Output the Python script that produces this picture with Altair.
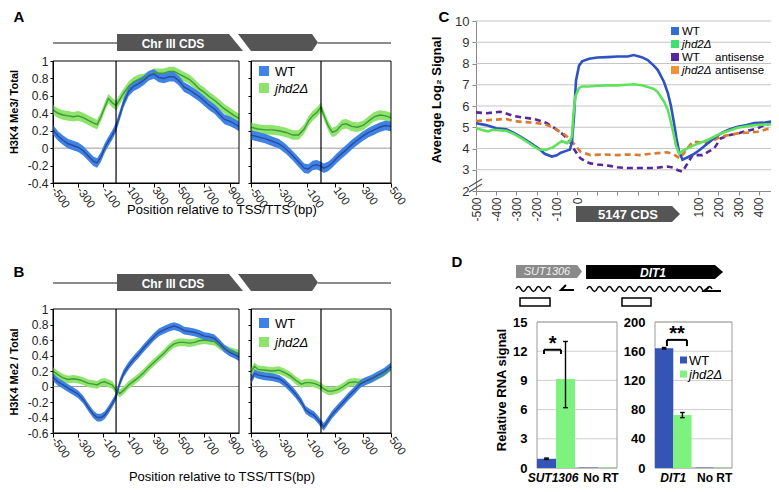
import altair as alt
import pandas as pd

FONT = "Liberation Sans"
W, H = 763, 476
ONE = alt.Data(values=[{"k": 1}])
FIX = "replace(datum.label, '\u2212', '-')"

BLUE_BAND, BLUE_LINE = "#3d82e4", "#2c4a9e"
GREEN_BAND, GREEN_LINE = "#8ee46c", "#3e9a3a"
C_WT, C_MU, C_WTA, C_MUA = "#2f52c2", "#5ee25e", "#56289c", "#da7a30"
D_WT, D_MU = "#3455b6", "#7ef27e"

# ---------------- Panel A : H3K4 Me3 / Total ----------------
A_tss_x = [-500, -460, -420, -380, -340, -300, -260, -220, -180, -150,
           -120, -90, -60, -30, 0, 30, 60, 100, 140, 180,
           220, 260, 300, 340, 380, 420, 460, 500, 540, 580,
           620, 660, 700, 740, 780, 820, 860, 900, 940, 975]
A_tss_wt = [0.21, 0.14, 0.09, 0.05, 0.03, 0.01, -0.03, -0.09, -0.15, -0.17,
            -0.10, 0.0, 0.08, 0.15, 0.24, 0.38, 0.52, 0.65, 0.71, 0.74,
            0.78, 0.83, 0.85, 0.81, 0.80, 0.82, 0.82, 0.77, 0.70, 0.67,
            0.63, 0.59, 0.54, 0.49, 0.45, 0.39, 0.33, 0.31, 0.28, 0.25]
A_tss_mu = [0.44, 0.40, 0.38, 0.37, 0.36, 0.37, 0.35, 0.32, 0.29, 0.27,
            0.36, 0.47, 0.57, 0.52, 0.49, 0.56, 0.63, 0.71, 0.76, 0.79,
            0.80, 0.83, 0.86, 0.86, 0.86, 0.88, 0.88, 0.85, 0.82, 0.79,
            0.74, 0.68, 0.64, 0.59, 0.55, 0.50, 0.45, 0.41, 0.37, 0.34]
A_tts_x = [-500, -450, -400, -350, -300, -250, -200, -160, -120, -90,
           -60, -30, 0, 20, 50, 80, 110, 150, 180, 220,
           260, 300, 340, 380, 420, 460, 500]
A_tts_wt = [0.15, 0.13, 0.11, 0.08, 0.05, -0.01, -0.09, -0.16, -0.23, -0.24,
            -0.20, -0.19, -0.21, -0.23, -0.21, -0.17, -0.12, -0.06, -0.02, 0.04,
            0.09, 0.14, 0.18, 0.21, 0.24, 0.26, 0.25]
A_tts_mu = [0.24, 0.22, 0.21, 0.21, 0.20, 0.18, 0.15, 0.15, 0.22, 0.31,
            0.37, 0.41, 0.47, 0.38, 0.26, 0.18, 0.20, 0.27, 0.28, 0.25,
            0.24, 0.26, 0.31, 0.36, 0.38, 0.37, 0.35]

# ---------------- Panel B : H3K4 Me2 / Total ----------------
B_tss_x = A_tss_x
B_tss_wt = [0.12, 0.06, 0.02, -0.02, -0.06, -0.10, -0.17, -0.27, -0.36, -0.40,
            -0.40, -0.37, -0.30, -0.22, -0.13, 0.05, 0.17, 0.27, 0.35, 0.42,
            0.50, 0.57, 0.64, 0.70, 0.73, 0.76, 0.78, 0.76, 0.72, 0.71,
            0.70, 0.68, 0.65, 0.64, 0.62, 0.56, 0.49, 0.44, 0.41, 0.38]
B_tss_mu = [0.20, 0.15, 0.11, 0.09, 0.10, 0.09, 0.07, 0.04, 0.03, 0.02,
            0.05, 0.06, 0.04, 0.02, -0.05, -0.09, -0.05, 0.02, 0.07, 0.12,
            0.18, 0.25, 0.31, 0.37, 0.43, 0.50, 0.55, 0.57, 0.57, 0.56,
            0.57, 0.59, 0.60, 0.59, 0.58, 0.53, 0.49, 0.46, 0.44, 0.42]
B_tts_x = [-500, -475, -450, -400, -350, -300, -260, -220, -180, -140,
           -110, -80, -50, -20, 0, 20, 50, 80, 120, 160,
           200, 240, 280, 320, 360, 400, 450, 500]
B_tts_wt = [0.08, 0.17, 0.15, 0.13, 0.12, 0.10, 0.05, -0.02, -0.10, -0.20,
            -0.30, -0.34, -0.37, -0.43, -0.48, -0.52, -0.44, -0.36, -0.28, -0.20,
            -0.12, -0.05, 0.03, 0.07, 0.10, 0.14, 0.19, 0.26]
B_tts_mu = [0.19, 0.26, 0.22, 0.21, 0.20, 0.21, 0.18, 0.14, 0.08, 0.03,
            0.05, 0.05, 0.04, 0.02, 0.0, -0.03, -0.06, -0.06, -0.04, 0.0,
            0.05, 0.06, 0.05, 0.07, 0.10, 0.13, 0.18, 0.25]

# ---------------- Panel C : Average Log2 signal ----------------
C_wt_x = [-500, -450, -400, -350, -315, -270, -230, -190, -160, -125,
          -100, -80, -50, -35, -25, -15, -5, 10, 25, 60,
          100, 150, 200, 250, 281, 320, 350, 380, 400, 430,
          450, 465, 480, 492, 505, 522, 550, 580, 610, 646,
          680, 712, 750, 795, 840, 878, 930, 970]
C_wt_y = [5.19, 5.10, 4.95, 4.90, 4.75, 4.50, 4.25, 4.00, 3.75, 3.62,
          3.68, 3.80, 3.90, 3.95, 4.30, 5.50, 7.20, 7.90, 8.10, 8.22,
          8.28, 8.30, 8.33, 8.33, 8.40, 8.30, 8.16, 7.90, 7.69, 7.14,
          6.60, 6.00, 5.20, 4.50, 3.85, 3.47, 3.60, 3.75, 3.95, 4.24,
          4.50, 4.71, 4.88, 5.02, 5.10, 5.20, 5.22, 5.28]
C_mu_x = [-500, -460, -440, -420, -400, -350, -315, -270, -230, -190,
          -155, -120, -100, -75, -50, -35, -25, -18, -8, 10,
          25, 60, 100, 150, 200, 250, 281, 320, 350, 380,
          398, 431, 450, 464, 480, 489, 505, 530, 580, 646,
          712, 795, 878, 970]
C_mu_y = [4.95, 4.85, 4.80, 4.88, 4.87, 4.83, 4.70, 4.45, 4.20, 3.95,
          3.93, 4.05, 4.18, 4.35, 4.25, 4.35, 4.60, 5.60, 6.45, 6.85,
          6.92, 6.92, 6.95, 6.97, 6.97, 7.00, 7.02, 6.98, 6.90, 6.80,
          6.67, 6.20, 5.80, 5.26, 4.60, 4.16, 3.75, 3.93, 4.16, 4.40,
          4.71, 4.98, 5.10, 5.15]
C_wta_x = [-500, -447, -410, -381, -350, -315, -260, -215, -180, -149,
           -120, -99, -75, -49, -30, -17, 0, 17, 40, 66,
           100, 132, 170, 199, 249, 315, 381, 447, 475, 497,
           522, 547, 572, 621, 650, 679, 712, 750, 795, 850,
           894, 927, 970]
C_wta_y = [5.70, 5.66, 5.70, 5.73, 5.65, 5.53, 5.45, 5.39, 5.30, 5.19,
           5.02, 4.87, 4.70, 4.48, 4.25, 4.01, 3.75, 3.54, 3.40, 3.30,
           3.25, 3.22, 3.17, 3.12, 3.08, 3.08, 3.08, 3.15, 3.10, 2.99,
           2.91, 3.30, 3.69, 3.69, 3.85, 4.01, 4.48, 4.62, 4.71, 4.85,
           4.95, 5.10, 5.20]
C_mua_x = [-500, -447, -381, -350, -315, -270, -215, -160, -120, -99,
           -70, -49, -17, 17, 66, 132, 199, 249, 315, 381,
           447, 480, 497, 510, 547, 572, 600, 621, 650, 679,
           712, 795, 894, 970]
C_mua_y = [5.29, 5.33, 5.37, 5.39, 5.30, 5.25, 5.22, 5.14, 5.00, 4.87,
           4.72, 4.56, 4.24, 3.85, 3.69, 3.72, 3.69, 3.72, 3.69, 3.77,
           3.82, 3.72, 3.61, 3.54, 4.01, 4.32, 4.30, 4.24, 4.30, 4.40,
           4.56, 4.71, 4.79, 4.98]
C_ticks = list(range(-500, 1000, 100))
C_legend = ["WT", "jhd2Δ", "WT", "jhd2Δ"]

# ---------------- Panel D : qRT-PCR ----------------
D1_groups = ["SUT1306", "No RT"]
D1_wt = [0.95, 0.04]
D1_mu = [9.15, 0.04]
D1_err_lo = [0.88, 6.2]     # WT, jhd2Δ (gene group)
D1_err_hi = [1.02, 13.0]
D2_groups = ["DIT1", "No RT"]
D2_wt = [164.0, 0.5]
D2_mu = [72.5, 0.5]
D2_err_lo = [163.0, 69.0]
D2_err_hi = [165.0, 76.0]


def lin(domain, rng):
    return alt.Scale(domain=domain, range=rng, zero=False, nice=False)


def txt(t, x, y, size=12, weight="normal", style="normal", color="black",
        angle=0, align="center", baseline="middle"):
    return alt.Chart(ONE).mark_text(
        text=t, font=FONT, fontSize=size, fontWeight=weight, fontStyle=style,
        color=color, angle=angle, align=align, baseline=baseline
    ).encode(x=alt.value(x), y=alt.value(y))


def path(d, fill=None, stroke=None, width=1.5):
    if fill is not None:
        m = alt.Chart(ONE).mark_point(shape=d, size=4, filled=True, color=fill,
                                      opacity=1, strokeWidth=0)
    else:
        m = alt.Chart(ONE).mark_point(shape=d, size=4, filled=False, color=stroke,
                                      opacity=1, strokeWidth=width)
    return m.encode(x=alt.value(0), y=alt.value(0))


def square(x, y, color, size):
    return alt.Chart(ONE).mark_square(size=size, color=color, opacity=1).encode(
        x=alt.value(x), y=alt.value(y))


def profile(xd, xr, yd, yr, xticks, yticks, ylabels, gx, wt, mu, half):
    xs, ys = lin(xd, xr), lin(yd, yr)
    xax = alt.Axis(orient="bottom", offset=yr[0] - H, values=xticks, labelAngle=55,
                   labelFont=FONT, labelFontSize=11.5, labelColor="#222", labelPadding=1,
                   labelFlush=False, labelOverlap=False, labelExpr=FIX, tickSize=4,
                   tickColor="black", domainColor="black", grid=False, title=None)
    yax = alt.Axis(orient="left", offset=-xr[0], values=yticks, labels=ylabels,
                   format="~g", labelExpr=FIX, labelFont=FONT, labelFontSize=12,
                   labelColor="#222", labelPadding=2, labelFlush=False,
                   labelOverlap=False, tickSize=3, tickColor="black",
                   domainColor="black", grid=False, title=None)
    df = pd.DataFrame({"x": gx, "wt": wt, "mu": mu})
    df["wt_lo"] = df["wt"] - half
    df["wt_hi"] = df["wt"] + half
    df["mu_lo"] = df["mu"] - half
    df["mu_hi"] = df["mu"] + half
    X = alt.X("x:Q", scale=xs, axis=xax)

    def Y(f):
        return alt.Y(f, type="quantitative", scale=ys, axis=yax)

    base = alt.Chart(df)
    zero = alt.Chart(pd.DataFrame({"x": [xd[0]], "x2": [xd[1]], "y": [0.0]})).mark_rule(
        color="#9b9b9b", strokeWidth=1).encode(X, alt.X2("x2:Q"), Y("y"))
    vline = alt.Chart(pd.DataFrame({"x": [0], "y": [yd[0]], "y2": [yd[1]]})).mark_rule(
        color="black", strokeWidth=1.2).encode(X, Y("y"), alt.Y2("y2:Q"))
    frame = alt.Chart(pd.DataFrame({"x": [xd[0]], "x2": [xd[1]], "y": [yd[0]], "y2": [yd[1]]})).mark_rect(
        fillOpacity=0, stroke="black", strokeWidth=1).encode(X, alt.X2("x2:Q"), Y("y"), alt.Y2("y2:Q"))
    layers = [
        zero,
        base.mark_area(color=GREEN_BAND, opacity=1).encode(X, Y("mu_lo"), alt.Y2("mu_hi:Q")),
        base.mark_area(color=BLUE_BAND, opacity=1).encode(X, Y("wt_lo"), alt.Y2("wt_hi:Q")),
        base.mark_line(color=GREEN_LINE, strokeWidth=1.4).encode(X, Y("mu")),
        base.mark_line(color=BLUE_LINE, strokeWidth=1.4).encode(X, Y("wt")),
        vline, frame,
    ]
    return alt.layer(*layers)


A_yt = [-0.4, -0.2, 0, 0.2, 0.4, 0.6, 0.8, 1]
B_yt = [-0.6, -0.4, -0.2, 0, 0.2, 0.4, 0.6, 0.8, 1]
L_xt = [-500, -300, -100, 100, 300, 500, 700, 900]
R_xt = [-500, -300, -100, 100, 300, 500]

pA1 = profile([-500, 975], [45, 231], [-0.4, 1], [175, 53], L_xt, A_yt, True,
              A_tss_x, A_tss_wt, A_tss_mu, 0.055)
pA2 = profile([-500, 500], [243, 383], [-0.4, 1], [175, 53], R_xt, A_yt, False,
              A_tts_x, A_tts_wt, A_tts_mu, 0.055)
pB1 = profile([-500, 975], [45, 231], [-0.6, 1], [425, 301], L_xt, B_yt, True,
              B_tss_x, B_tss_wt, B_tss_mu, 0.05)
pB2 = profile([-500, 500], [243, 383], [-0.6, 1], [425, 301], R_xt, B_yt, False,
              B_tts_x, B_tts_wt, B_tts_mu, 0.05)

# ---------------- Panel C chart ----------------
cxs, cys = lin([-500, 970], [468, 765]), lin([2, 10], [183, 13])
cxax = alt.Axis(orient="bottom", offset=183 - H, values=C_ticks, labelAngle=270,
                labelExpr="datum.value <= 0 ? replace(datum.label, '\u2212', '-') : (datum.value > 500 ? format(datum.value - 500, 'd') : '')",
                labelFont=FONT, labelFontSize=12, labelColor="#333", labelPadding=2,
                labelFlush=False, labelOverlap=False, tickSize=4, tickColor="#888",
                domainColor="#888", grid=False, title=None)
cyax = alt.Axis(orient="left", offset=-468, values=list(range(2, 11)), labelFont=FONT,
                labelFontSize=13, labelColor="#333", labelPadding=3, tickSize=4,
                tickColor="#888", domainColor="#888", grid=False, title=None,
                labelFlush=False, labelOverlap=False)
CX = alt.X("x:Q", scale=cxs, axis=cxax)


def CY(f):
    return alt.Y(f, type="quantitative", scale=cys, axis=cyax)


c_grid = alt.Chart(pd.DataFrame({"x": [-500] * 8, "x2": [970] * 8, "y": list(range(3, 11))})).mark_rule(
    color="#c4c4c4", strokeWidth=1).encode(CX, alt.X2("x2:Q"), CY("y"))


def cline(xv, yv, color, dash):
    kw = dict(color=color, strokeWidth=2.6)
    if dash:
        kw["strokeDash"] = [6, 4]
    return alt.Chart(pd.DataFrame({"x": xv, "y": yv})).mark_line(**kw).encode(CX, CY("y"))


pC = alt.layer(
    c_grid,
    cline(C_wta_x, C_wta_y, C_WTA, True),
    cline(C_mua_x, C_mua_y, C_MUA, True),
    cline(C_wt_x, C_wt_y, C_WT, False),
    cline(C_mu_x, C_mu_y, C_MU, False),
)


# ---------------- Panel D charts ----------------
def bar_panel(xr, ymax, yticks, groups, wt, mu, elo, ehi, brk_x, brk_y, brk_low,
              star, star_x, star_y, pad, cat_x):
    BW = 0.95
    starts = [0.0, 2.1]
    xs, ys = lin([0, 4], xr), lin([0, ymax], [460, 314])
    yax = alt.Axis(orient="left", offset=-xr[0], values=yticks, labelFont=FONT,
                   labelFontSize=13, labelFontWeight="bold", labelColor="black",
                   labelPadding=pad, ticks=False, domain=False, grid=False,
                   title=None, labelFlush=False, labelOverlap=False)
    X = alt.X("x:Q", scale=xs, axis=None)

    def Y(f):
        return alt.Y(f, type="quantitative", scale=ys, axis=yax)

    rows = []
    for i in range(2):
        rows.append({"x": starts[i], "x2": starts[i] + BW, "y": 0.0, "v": wt[i], "s": "WT"})
        rows.append({"x": starts[i] + BW, "x2": starts[i] + 2 * BW, "y": 0.0, "v": mu[i], "s": "MU"})
    bdf = pd.DataFrame(rows)
    grid = alt.Chart(pd.DataFrame({"x": [0] * len(yticks), "x2": [4] * len(yticks), "y": yticks})).mark_rule(
        color="#cfcfcf", strokeWidth=1).encode(X, alt.X2("x2:Q"), Y("y"))
    frame = alt.Chart(pd.DataFrame({"x": [0], "x2": [4], "y": [0], "y2": [ymax]})).mark_rect(
        fillOpacity=0, stroke="#9a9a9a", strokeWidth=1).encode(X, alt.X2("x2:Q"), Y("y"), alt.Y2("y2:Q"))
    b_wt = alt.Chart(bdf[bdf.s == "WT"]).mark_rect(color=D_WT).encode(X, alt.X2("x2:Q"), Y("y"), alt.Y2("v:Q"))
    b_mu = alt.Chart(bdf[bdf.s == "MU"]).mark_rect(color=D_MU).encode(X, alt.X2("x2:Q"), Y("y"), alt.Y2("v:Q"))
    cx = [BW / 2, 1.5 * BW]
    edf = pd.DataFrame({"x": cx, "y": elo, "y2": ehi})
    err = alt.Chart(edf).mark_rule(color="black", strokeWidth=1.4).encode(X, Y("y"), alt.Y2("y2:Q"))
    caps = alt.Chart(pd.DataFrame({"x": [c - 0.12 for c in cx] * 2, "x2": [c + 0.12 for c in cx] * 2,
                                   "y": elo + ehi})).mark_rule(color="black", strokeWidth=1.4).encode(
        X, alt.X2("x2:Q"), Y("y"))
    bh = alt.Chart(pd.DataFrame({"x": [brk_x[0]], "x2": [brk_x[1]], "y": [brk_y]})).mark_rule(
        color="black", strokeWidth=2).encode(X, alt.X2("x2:Q"), Y("y"))
    bv = alt.Chart(pd.DataFrame({"x": brk_x, "y": [brk_low] * 2, "y2": [brk_y] * 2})).mark_rule(
        color="black", strokeWidth=2).encode(X, Y("y"), alt.Y2("y2:Q"))
    st = alt.Chart(pd.DataFrame({"x": [star_x], "y": [star_y]})).mark_text(
        text=star, font=FONT, fontSize=20, fontWeight="bold", baseline="middle").encode(X, Y("y"))
    cats = alt.Chart(pd.DataFrame({"x": [cat_x[0]], "y": [0.0], "t": [groups[0]]})).mark_text(
        font=FONT, fontSize=12, fontWeight="bold", fontStyle="italic", dy=14,
        baseline="alphabetic").encode(X, Y("y"), text="t:N")
    cats2 = alt.Chart(pd.DataFrame({"x": [cat_x[1]], "y": [0.0], "t": [groups[1]]})).mark_text(
        font=FONT, fontSize=12, fontWeight="bold", dy=14,
        baseline="alphabetic").encode(X, Y("y"), text="t:N")
    return alt.layer(grid, frame, b_wt, b_mu, err, caps, bh, bv, st, cats, cats2)


pD1 = bar_panel([529, 609], 15, [0, 3, 6, 9, 12, 15], D1_groups, D1_wt, D1_mu,
                D1_err_lo, D1_err_hi, [0.35, 1.2], 12.15, 11.7, "*", 0.78, 12.7, 10,
                [0.8, 3.2])
pD2 = bar_panel([647, 724], 200, [0, 40, 80, 120, 160, 200], D2_groups, D2_wt, D2_mu,
                D2_err_lo, D2_err_hi, [0.62, 1.66], 175.5, 167, "**", 1.14, 183, 10,
                [0.95, 3.1])

# ---------------- decorations / annotations ----------------
deco = [
    # gene diagrams A / B
    path("M45,35H109M310,35H383", stroke="#8c8c8c", width=2),
    path("M109,26L221,26L235,43L109,43Z", fill="#555555"),
    path("M230,26L304,26L310,34.5L304,43L243,43Z", fill="#555555"),
    txt("Chr III CDS", 165, 35.5, size=12, weight="bold", color="white"),
    path("M45,275H109M310,275H383", stroke="#8c8c8c", width=2),
    path("M109,266L221,266L235,283L109,283Z", fill="#555555"),
    path("M230,266L304,266L310,274.5L304,283L243,283Z", fill="#555555"),
    txt("Chr III CDS", 165, 275.5, size=12, weight="bold", color="white"),
    # C gene arrow + axis break
    path("M568,198L664,198L672,206L664,214L568,214Z", fill="#555555"),
    txt("5147 CDS", 620, 206.5, size=13, weight="bold", color="white"),
    path("M461,179L474,171M461,184L474,176", stroke="#555555", width=1.2),
    # D gene diagram
    path("M508,257L569,257L574,263.5L569,270L508,270Z", fill="#8a8a8a"),
    txt("SUT1306", 539, 264, size=11, style="italic", color="#f2f2f2"),
    path("M578,257L707,257L715,264L707,271L578,271Z", fill="black"),
    txt("DIT1", 645, 264.5, size=12, weight="bold", style="italic", color="white"),
    path("M508,281q2.5,-5 5,0t5,0t5,0t5,0t5,0t5,0t5,0", stroke="black", width=1.6),
    path("M579,281q2.5,-5 5,0t5,0t5,0t5,0t5,0t5,0t5,0t5,0t5,0t5,0t5,0t5,0t5,0t5,0t5,0t5,0t5,0t5,0t5,0t5,0t5,0t5,0t5,0t5,0t5,0",
         stroke="black", width=1.6),
    path("M566,282L553,282L558,277", stroke="black", width=2),
    path("M713,283L696,283L701,279", stroke="black", width=2),
    path("M512,290h30v8h-30Z", stroke="black", width=1.5),
    path("M614,290h29v8h-29Z", stroke="black", width=1.5),
    # panel letters
    txt("A", 11, 9, size=15, weight="bold"),
    txt("B", 11, 264, size=15, weight="bold"),
    txt("C", 436, 9, size=15, weight="bold"),
    txt("D", 449, 254, size=15, weight="bold"),
    # axis titles
    txt("H3K4 Me3/ Total", 7, 104, size=11, weight="bold", angle=270),
    txt("H3K4 Me2 / Total", 7, 364, size=11, weight="bold", angle=270),
    txt("Position relative to TSS/TTS (bp)", 214, 202, size=13),
    txt("Position relative to TSS/TTS(bp)", 214, 469, size=13),
    txt("Average Log\u2082 Signal", 429, 92, size=13, weight="bold", angle=270),
    txt("Relative RNA signal", 494, 382, size=13, weight="bold", angle=270),
    # legends A / B
    square(256, 63, BLUE_BAND, 100), txt("WT", 267, 63.5, size=13, align="left"),
    square(256, 80, GREEN_BAND, 100), txt("jhd2Δ", 267, 80.5, size=13, style="italic", align="left"),
    square(256, 315, BLUE_BAND, 100), txt("WT", 267, 315.5, size=13, align="left"),
    square(256, 334, GREEN_BAND, 100), txt("jhd2Δ", 267, 334.5, size=13, style="italic", align="left"),
    # legend C
    square(667, 23, "#2f6fd0", 64), txt(C_legend[0], 674, 23.5, size=11.5, align="left"),
    square(667, 36, "#3fe070", 64), txt(C_legend[1], 674, 36.5, size=11.5, style="italic", align="left"),
    square(667, 49, C_WTA, 64), txt(C_legend[2], 674, 49.5, size=11.5, align="left"),
    txt("antisense", 707, 49.5, size=11.5, align="left"),
    square(667, 62, "#f0923a", 64), txt(C_legend[3], 674, 62.5, size=11.5, style="italic", align="left"),
    txt("antisense", 707, 62.5, size=11.5, align="left"),
    # legend D
    square(675.5, 352, D_WT, 49), txt("WT", 681, 352.5, size=13, align="left"),
    square(675.5, 366, D_MU, 49), txt("jhd2Δ", 681, 366.5, size=13, style="italic", align="left"),
]

chart = alt.layer(pA1, pA2, pB1, pB2, pC, pD1, pD2, *deco).resolve_scale(
    x="independent", y="independent"
).properties(
    width=W, height=H, padding=0, background="white",
    autosize=alt.AutoSizeParams(type="none")
).configure_view(stroke=None)

chart.save("out.html", embed_options={"renderer": "svg", "actions": False})
